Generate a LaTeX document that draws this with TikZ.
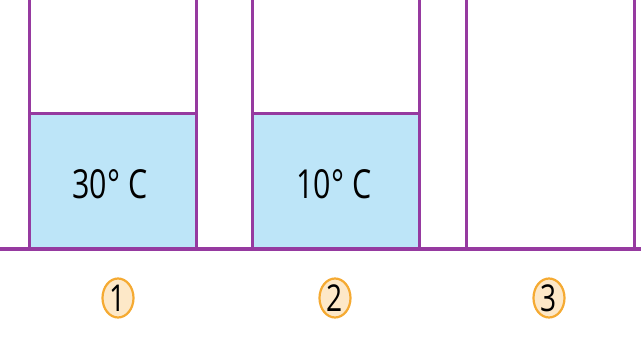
\documentclass[tikz,border=0pt]{standalone}
\usepackage{fontspec}
\setmainfont{Open Sans}
\usetikzlibrary{shapes.geometric}
\definecolor{wall}{RGB}{150,58,160}
\definecolor{water}{RGB}{189,229,248}
\definecolor{tagfill}{RGB}{253,232,200}
\definecolor{tagedge}{RGB}{245,170,50}
% horizontally narrowed lettering
\newcommand{\narrowtext}[1]{\scalebox{0.76}[1]{#1}}
\begin{document}
\begin{tikzpicture}[x=1pt,y=-1pt,
  wallline/.style={draw=wall,line width=3pt},
  floorline/.style={draw=wall,line width=4.3pt},
  waterbox/.style={fill=water,draw=wall,line width=3pt},
  temp/.style={font=\fontsize{40}{44}\selectfont,inner sep=0pt},
  tag/.style={ellipse,draw=tagedge,fill=tagfill,line width=2.2pt,
    minimum width=31pt,minimum height=39pt,inner sep=0pt,
    font=\fontsize{37}{40}\selectfont}]
\useasboundingbox (0,0) rectangle (641,337);
% water in the first two vessels
\path[waterbox] (29,114) rectangle (196,249);
\path[waterbox] (252,114) rectangle (419,249);
% vessel walls
\foreach \x in {29,196,252,419,466,634}
  \draw[wallline] (\x,-2) -- (\x,249);
% floor
\coordinate (fl) at (0,249);
\coordinate (fr) at (641,249);
\draw[floorline] (fl) -- (fr);
% temperatures
\node[temp] (t1) at (110,184) {\narrowtext{30° C}};
\node[temp] (t2) at (334,184) {\narrowtext{10° C}};
% numbered tags
\node[tag] (n1) at (118,298) {\narrowtext{1}};
\node[tag] (n2) at (335,298) {\narrowtext{2}};
\node[tag] (n3) at (549,298) {\narrowtext{3}};
\end{tikzpicture}
\end{document}
